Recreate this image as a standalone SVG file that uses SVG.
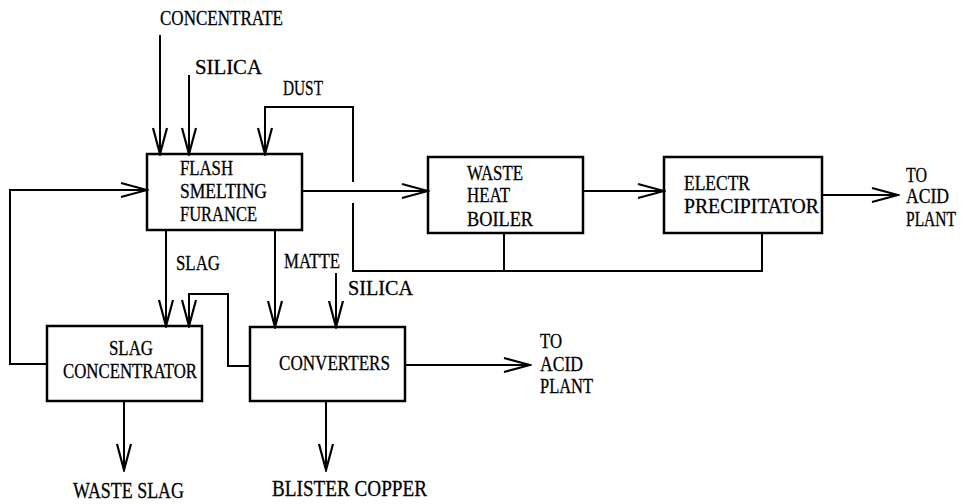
<svg xmlns="http://www.w3.org/2000/svg" width="969" height="504" viewBox="0 0 969 504">
<style>
.bx{fill:none;stroke:#000;stroke-width:2.5}
.ln{fill:none;stroke:#000;stroke-width:2}
.ar{marker-end:url(#v)}
text{font-family:"Liberation Serif","Times New Roman",serif;font-size:20px;fill:#000;stroke:#000;stroke-width:0.3}
.lg{font-size:22px}
.big{font-size:23px}
</style>
<defs>
<marker id="v" markerUnits="userSpaceOnUse" markerWidth="30" markerHeight="18" viewBox="-28 -9 30 18" refX="0" refY="0" orient="auto">
<path d="M-26,-7 L0,0 L-26,7" fill="none" stroke="#000" stroke-width="2.2"/>
</marker>
</defs>
<rect width="969" height="504" fill="#fff"/>
<g id="connectors">
<path class="ln ar" d="M160,35 V154"/>
<path class="ln ar" d="M189,75 V154"/>
<path class="ln ar" d="M353,182 V107 H265 V154"/>
<path class="ln" d="M353,203 V271 H762 V233"/>
<path class="ln" d="M504,233 V271"/>
<path class="ln ar" d="M302,191 H428"/>
<path class="ln ar" d="M583,191 H664"/>
<path class="ln ar" d="M822,195 H898"/>
<path class="ln ar" d="M47,364 H10 V190 H147"/>
<path class="ln ar" d="M166,230 V326"/>
<path class="ln ar" d="M275,230 V327"/>
<path class="ln ar" d="M336,273 V327"/>
<path class="ln ar" d="M250,366 H228 V294 H189 V326"/>
<path class="ln ar" d="M405,365 H530"/>
<path class="ln ar" d="M124,401 V470"/>
<path class="ln ar" d="M326,401 V470"/>
</g>
<g id="labels">
<text class="lg" x="160" y="25" textLength="123" lengthAdjust="spacingAndGlyphs">CONCENTRATE</text>
<text x="195" y="74" textLength="67" lengthAdjust="spacingAndGlyphs">SILICA</text>
<text class="lg" x="283" y="95" textLength="40" lengthAdjust="spacingAndGlyphs">DUST</text>
<text class="lg" x="176" y="270" textLength="44" lengthAdjust="spacingAndGlyphs">SLAG</text>
<text class="lg" x="284" y="268" textLength="56" lengthAdjust="spacingAndGlyphs">MATTE</text>
<text class="lg" x="348" y="295" textLength="65" lengthAdjust="spacingAndGlyphs">SILICA</text>
<text x="906" y="182" textLength="21" lengthAdjust="spacingAndGlyphs">TO</text>
<text x="906" y="203" textLength="43" lengthAdjust="spacingAndGlyphs">ACID</text>
<text x="906" y="226" textLength="50" lengthAdjust="spacingAndGlyphs">PLANT</text>
<text x="540" y="348" textLength="22" lengthAdjust="spacingAndGlyphs">TO</text>
<text x="540" y="371" textLength="43" lengthAdjust="spacingAndGlyphs">ACID</text>
<text x="540" y="393" textLength="53" lengthAdjust="spacingAndGlyphs">PLANT</text>
<text class="big" x="73" y="498" textLength="111" lengthAdjust="spacingAndGlyphs">WASTE SLAG</text>
<text class="big" x="272" y="496" textLength="155" lengthAdjust="spacingAndGlyphs">BLISTER COPPER</text>
</g>
<g id="flash">
<rect class="bx" x="147" y="154" width="155" height="76"/>
<text x="180" y="175" textLength="53" lengthAdjust="spacingAndGlyphs">FLASH</text>
<text x="180" y="198" textLength="87" lengthAdjust="spacingAndGlyphs">SMELTING</text>
<text x="180" y="221" textLength="77" lengthAdjust="spacingAndGlyphs">FURANCE</text>
</g>
<g id="whb">
<rect class="bx" x="428" y="157" width="155" height="76"/>
<text x="467" y="180" textLength="56" lengthAdjust="spacingAndGlyphs">WASTE</text>
<text x="467" y="202" textLength="43" lengthAdjust="spacingAndGlyphs">HEAT</text>
<text x="467" y="226" textLength="66" lengthAdjust="spacingAndGlyphs">BOILER</text>
</g>
<g id="esp">
<rect class="bx" x="664" y="157" width="158" height="76"/>
<text x="684" y="190" textLength="66" lengthAdjust="spacingAndGlyphs">ELECTR</text>
<text x="684" y="213" textLength="135" lengthAdjust="spacingAndGlyphs">PRECIPITATOR</text>
</g>
<g id="slagconc">
<rect class="bx" x="47" y="326" width="155" height="75"/>
<text x="109" y="355" textLength="44" lengthAdjust="spacingAndGlyphs">SLAG</text>
<text x="63" y="378" textLength="134" lengthAdjust="spacingAndGlyphs">CONCENTRATOR</text>
</g>
<g id="converters">
<rect class="bx" x="250" y="327" width="155" height="74"/>
<text class="lg" x="279" y="370" textLength="111" lengthAdjust="spacingAndGlyphs">CONVERTERS</text>
</g>
</svg>
